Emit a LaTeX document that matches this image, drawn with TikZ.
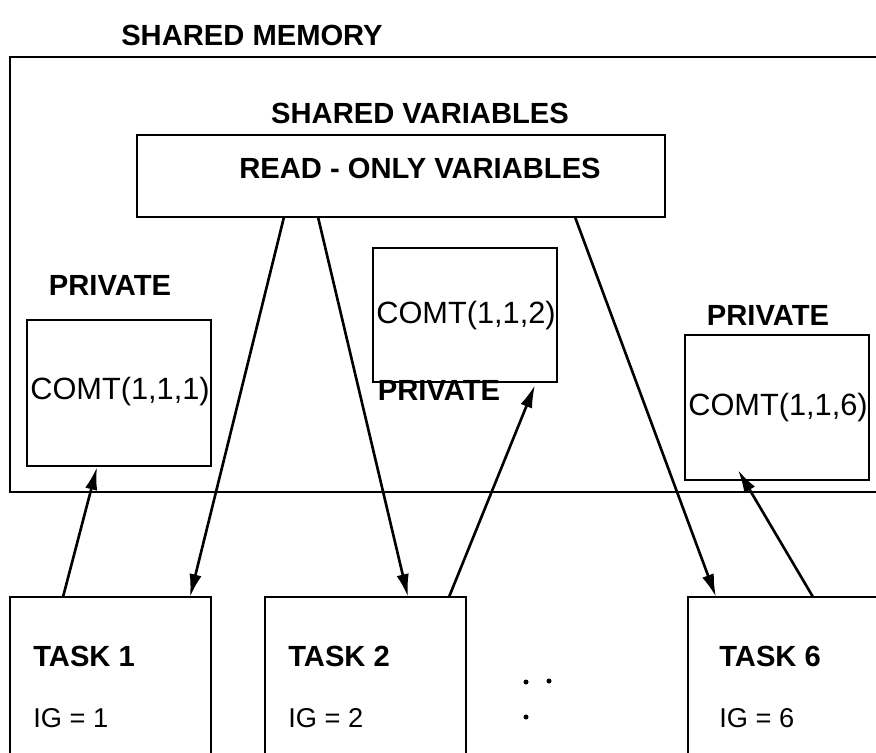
\documentclass[tikz,border=0pt]{standalone}
\usepackage{fontspec}
\setmainfont{Liberation Sans}
\usetikzlibrary{arrows.meta}

\begin{document}
\begin{tikzpicture}[x=0.02cm, y=-0.02cm, line width=1.5pt,
  head/.style={font=\bfseries\fontsize{16.6}{18}\selectfont, inner sep=0pt},
  comt/.style={font=\fontsize{17.5}{19}\selectfont, inner sep=0pt, anchor=west},
  ig/.style={font=\fontsize{15.5}{17}\selectfont, inner sep=0pt, anchor=west},
  flow/.style={-{Latex[length=13pt,width=7pt]}}]

\useasboundingbox (0,0) rectangle (876,753);

\coordinate (M1) at (876,57);
\coordinate (M2) at (10,57);
\coordinate (M3) at (10,492);
\coordinate (M4) at (876,492);

\draw (M1) -- (M2) -- (M3) -- (M4);
\node[head] (shmem) at (252,35) {SHARED MEMORY};
\node[head] (shvar) at (420,113) {SHARED VARIABLES};

\draw (137,135) rectangle (665,217);
\node[head] (ro) at (420,168) {READ - ONLY VARIABLES};

%private boxes
\draw (27,320) rectangle (211,466);
\draw (373,248) rectangle (557,382);
\draw (685,335) rectangle (869,480);

\node[head] (priv1) at (110,285) {PRIVATE};
\node[head] (priv2) at (439,390) {PRIVATE};
\node[head] (priv6) at (768,315) {PRIVATE};

\node[comt] (c1) at (29,392) {COMT(1,1,1)};
\node[comt] (c2) at (375,316) {COMT(1,1,2)};
\node[comt] (c6) at (687,408) {COMT(1,1,6)};

%task boxes
\draw (10,753) -- (10,597) -- (211,597) -- (211,753);
\draw (265,753) -- (265,597) -- (466,597) -- (466,753);
\draw (688,753) -- (688,597) -- (876,597);

\node[head, anchor=west] (t1) at (32,656) {TASK 1};
\node[head, anchor=west] (t2) at (287,656) {TASK 2};
\node[head, anchor=west] (t6) at (718,656) {TASK 6};

\node[ig] (ig1) at (32,718) {IG = 1};
\node[ig] (ig2) at (287,718) {IG = 2};
\node[ig] (ig6) at (718,718) {IG = 6};

\fill (526,682) circle (2.5);
\fill (549,681) circle (2.5);
\fill (526,717) circle (2.5);

%arrow ends
\coordinate (ro1) at (284,217);
\coordinate (ro2) at (318,217);
\coordinate (ro6) at (575,217);
\coordinate (in1) at (190,597);
\coordinate (in2) at (408,597);
\coordinate (in6) at (716,597);
\coordinate (out1) at (63,597);
\coordinate (out2) at (449,597);
\coordinate (out6) at (813,597);
\coordinate (p1) at (97,467);
\coordinate (p2) at (535,385);
\coordinate (p6) at (738,470);

\draw[flow] (ro1) -- (in1);
\draw[flow] (ro2) -- (in2);
\draw[flow] (ro6) -- (in6);
\draw[flow] (out1) -- (p1);
\draw[flow] (out2) -- (p2);
\draw[flow] (out6) -- (p6);

\end{tikzpicture}
\end{document}
